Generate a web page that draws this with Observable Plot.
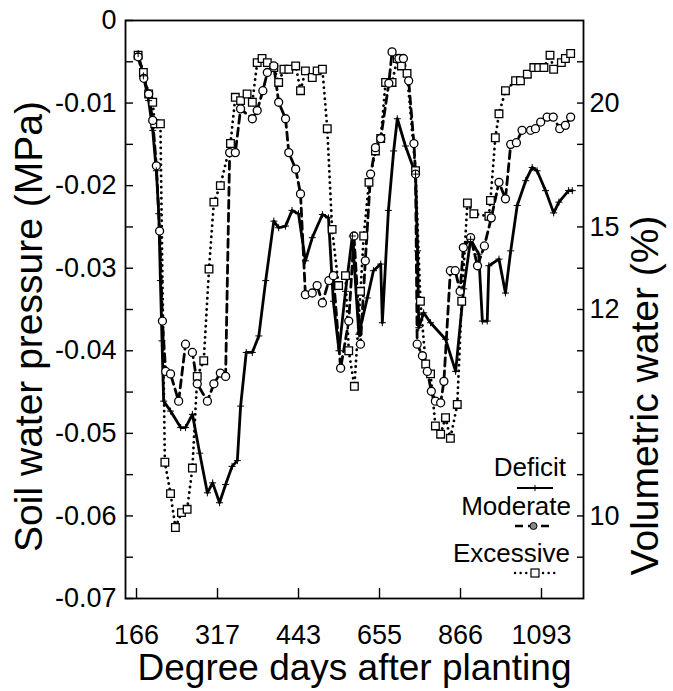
<!DOCTYPE html>
<html><head><meta charset="utf-8">
<script src="https://cdn.jsdelivr.net/npm/d3@7"></script>
<script src="https://cdn.jsdelivr.net/npm/@observablehq/plot@0.6"></script>
<style>
body{margin:0;background:#fff;}
#chart{position:relative;width:673px;height:691px;}
#legend{position:absolute;left:0;top:0;pointer-events:none;}
</style></head><body><div id="chart"></div>
<script>
// x: position along the time axis (tick units: 0,20,...,100), p: soil water pressure (MPa)
const deficitX = [0.4,1.7,3.0,4.0,4.9,5.5,5.9,6.3,6.7,8.4,10.9,12.1,13.8,15.6,17.5,18.8,20.5,22.0,23.6,24.9,25.7,27.1,28.6,30.2,31.9,33.9,35.1,36.8,38.4,40.0,41.7,43.4,45.9,47.4,48.6,50.0,51.6,53.3,54.9,57.0,58.5,60.3,60.7,62.2,63.5,64.4,66.4,68.9,69.4,69.7,70.9,72.6,76.3,78.8,80.8,82.5,84.5,85.4,86.6,87.0,89.5,91.1,92.4,94.0,96.1,97.7,98.9,101.0,103.0,104.3,106.7,107.6];
const deficitP = [-0.0040,-0.0067,-0.0097,-0.0133,-0.0182,-0.0234,-0.0315,-0.0388,-0.0461,-0.0473,-0.0493,-0.0493,-0.0477,-0.0524,-0.0572,-0.0560,-0.0584,-0.0562,-0.0540,-0.0533,-0.0467,-0.0402,-0.0402,-0.0382,-0.0315,-0.0243,-0.0251,-0.0249,-0.0230,-0.0234,-0.0291,-0.0263,-0.0235,-0.0239,-0.0340,-0.0400,-0.0328,-0.0261,-0.0380,-0.0336,-0.0303,-0.0295,-0.0366,-0.0230,-0.0158,-0.0119,-0.0152,-0.0186,-0.0279,-0.0372,-0.0354,-0.0366,-0.0386,-0.0425,-0.0325,-0.0265,-0.0283,-0.0364,-0.0364,-0.0297,-0.0289,-0.0330,-0.0279,-0.0224,-0.0194,-0.0178,-0.0182,-0.0206,-0.0233,-0.0220,-0.0206,-0.0206];

const moderateX = [0.4,1.8,3.0,4.0,4.9,5.7,6.4,7.2,8.4,10.4,12.1,13.8,15.0,17.5,19.1,20.7,22.0,23.0,24.4,25.7,28.6,29.8,31.2,32.3,33.9,35.1,36.8,37.6,39.3,40.5,41.7,43.4,44.6,45.9,47.5,48.6,50.4,52.4,53.7,55.3,56.5,57.8,59.0,60.3,62.3,63.1,64.8,65.9,67.2,68.5,68.9,69.3,70.6,71.8,72.8,73.8,75.1,75.9,77.5,78.7,79.9,80.7,82.5,84.2,85.9,87.6,89.5,91.1,92.4,93.8,95.2,97.3,98.5,99.8,101.4,102.9,104.5,105.9,107.2];
const moderateP = [-0.0044,-0.0070,-0.0089,-0.0121,-0.0176,-0.0255,-0.0364,-0.0425,-0.0428,-0.0461,-0.0392,-0.0402,-0.0440,-0.0461,-0.0440,-0.0427,-0.0431,-0.0160,-0.0160,-0.0107,-0.0119,-0.0109,-0.0085,-0.0063,-0.0055,-0.0099,-0.0119,-0.0160,-0.0180,-0.0210,-0.0332,-0.0330,-0.0321,-0.0342,-0.0315,-0.0309,-0.0421,-0.0364,-0.0261,-0.0392,-0.0291,-0.0186,-0.0154,-0.0143,-0.0076,-0.0038,-0.0046,-0.0046,-0.0073,-0.0149,-0.0186,-0.0392,-0.0406,-0.0425,-0.0449,-0.0461,-0.0463,-0.0437,-0.0303,-0.0303,-0.0328,-0.0275,-0.0263,-0.0297,-0.0273,-0.0239,-0.0196,-0.0216,-0.0150,-0.0148,-0.0133,-0.0133,-0.0131,-0.0123,-0.0117,-0.0117,-0.0131,-0.0127,-0.0117];

const excessiveX = [0.4,1.7,3.0,4.0,4.5,5.9,7.0,8.4,9.6,11.1,12.5,13.8,15.0,16.6,17.9,19.1,20.7,23.2,24.4,25.7,27.3,28.6,29.8,31.0,32.3,33.9,35.1,36.4,37.6,39.3,40.5,41.7,43.4,44.6,45.9,47.1,48.3,49.9,51.6,52.4,53.8,55.3,56.1,57.4,59.0,60.3,61.5,63.1,64.4,65.4,66.8,68.9,70.1,71.4,72.6,73.8,75.1,76.3,77.5,79.2,80.3,81.7,83.3,87.0,87.4,88.6,89.5,91.1,93.6,94.8,96.5,98.1,99.3,100.6,102.1,103.0,104.9,105.9,107.2];
const excessiveP = [-0.0042,-0.0063,-0.0089,-0.0099,-0.0125,-0.0125,-0.0535,-0.0573,-0.0614,-0.0596,-0.0592,-0.0542,-0.0431,-0.0412,-0.0301,-0.0220,-0.0200,-0.0149,-0.0093,-0.0097,-0.0089,-0.0099,-0.0051,-0.0046,-0.0051,-0.0057,-0.0075,-0.0059,-0.0059,-0.0055,-0.0085,-0.0061,-0.0069,-0.0061,-0.0059,-0.0131,-0.0253,-0.0321,-0.0309,-0.0400,-0.0443,-0.0328,-0.0261,-0.0196,-0.0158,-0.0143,-0.0075,-0.0075,-0.0046,-0.0055,-0.0064,-0.0182,-0.0340,-0.0416,-0.0428,-0.0491,-0.0501,-0.0481,-0.0506,-0.0465,-0.0340,-0.0221,-0.0234,-0.0237,-0.0218,-0.0142,-0.0113,-0.0085,-0.0073,-0.0073,-0.0065,-0.0057,-0.0057,-0.0057,-0.0042,-0.0059,-0.0051,-0.0046,-0.0040];

const xTickPos = [0,20,40,60,80,100];
const xTickLabels = ["166","317","443","655","866","1093"];
const leftTicks = [0,-0.01,-0.02,-0.03,-0.04,-0.05,-0.06,-0.07];
const leftTickLabels = ["0","-0.01","-0.02","-0.03","-0.04","-0.05","-0.06","-0.07"];
const leftMinorTicks = [-0.005,-0.015,-0.025,-0.035,-0.045,-0.055,-0.065];
const rightTickP = [-0.005,-0.01,-0.015,-0.02,-0.025,-0.03,-0.035,-0.04,-0.045,-0.05,-0.055,-0.06,-0.065];
const rightTickLabels = ["","20","","","15","","12","","","","","10",""];
const seriesNames = ["Deficit","Moderate","Excessive"];

const rows = (X, P) => X.map((x, i) => ({x, p: P[i]}));
const deficit = rows(deficitX, deficitP);
const moderate = rows(moderateX, moderateP);
const excessive = rows(excessiveX, excessiveP);

const font = "'Liberation Sans', Arial, Helvetica, sans-serif";
const W = 673, H = 691, ML = 125, MR = 90, MT = 20, MB = 93;

const chart = Plot.plot({
  width: W, height: H,
  marginLeft: ML, marginRight: MR, marginTop: MT, marginBottom: MB,
  style: {fontFamily: font, background: "white", color: "black", overflow: "visible"},
  x: {domain: [-2.72, 110.37]},
  y: {domain: [-0.07, 0]},
  marks: [
    Plot.frame({stroke: "black", strokeWidth: 1.8}),
    // inward tick marks
    Plot.axisY({ticks: leftTicks.concat(leftMinorTicks), tickSize: -8, tickFormat: () => "", label: null, strokeWidth: 1.4}),
    Plot.axisY({ticks: rightTickP, anchor: "right", tickSize: -7, tickFormat: () => "", label: null, strokeWidth: 1.4}),
    Plot.axisX({ticks: xTickPos, tickSize: -10, tickFormat: () => "", label: null, strokeWidth: 1.4}),
    // tick labels
    Plot.axisY({ticks: leftTicks, tickSize: 0, tickPadding: 9, fontSize: 27, label: null,
      tickFormat: d => leftTickLabels[leftTicks.indexOf(d)]}),
    Plot.axisY({ticks: rightTickP, anchor: "right", tickSize: 0, tickPadding: 6, fontSize: 27, label: null,
      tickFormat: d => rightTickLabels[rightTickP.indexOf(d)]}),
    Plot.axisX({ticks: xTickPos, tickSize: 0, tickPadding: 26, fontSize: 27, label: null,
      tickFormat: d => xTickLabels[xTickPos.indexOf(d)]}),
    // axis titles
    Plot.text(["Soil water pressure (MPa)"], {frameAnchor: "left", rotate: -90, dx: -96, dy: 17, fontSize: 39, lineAnchor: "middle", textAnchor: "middle"}),
    Plot.text(["Volumetric water (%)"], {frameAnchor: "right", rotate: -90, dx: 62, dy: 86, fontSize: 39, lineAnchor: "middle", textAnchor: "middle"}),
    Plot.text(["Degree days after planting"], {frameAnchor: "bottom", dy: 70, fontSize: 37, lineAnchor: "middle"}),
    // series lines
    Plot.line(excessive, {x: "x", y: "p", stroke: "black", strokeWidth: 2.8, strokeDasharray: "0.1,5.5", strokeLinecap: "round"}),
    Plot.line(moderate, {x: "x", y: "p", stroke: "black", strokeWidth: 2.8, strokeDasharray: "8,5"}),
    Plot.line(deficit, {x: "x", y: "p", stroke: "black", strokeWidth: 2.8}),
    // markers
    Plot.dot(excessive, {x: "x", y: "p", symbol: "square", r: 4.3, stroke: "black", fill: "white", strokeWidth: 1.3}),
    Plot.dot(moderate, {x: "x", y: "p", symbol: "circle", r: 4, stroke: "black", fill: "white", strokeWidth: 1.3}),
    Plot.dot(deficit, {x: "x", y: "p", symbol: "plus", r: 2.4, stroke: "black", strokeWidth: 1})
  ]
});
const root = document.getElementById("chart");
root.appendChild(chart);

// legend (inside the plot, lower right)
const lg = d3.select(root).append("svg").attr("id", "legend").attr("width", W).attr("height", H)
  .style("font-family", font);
const entries = [
  {name: seriesNames[0], tx: 566, ty: 476, ly: 488, x1: 517, x2: 553, dash: null, sym: "plus"},
  {name: seriesNames[1], tx: 571, ty: 515, ly: 526, x1: 515, x2: 552, dash: "8,5", sym: "circle"},
  {name: seriesNames[2], tx: 570, ty: 562, ly: 573, x1: 515, x2: 555, dash: "0.1,5.5", sym: "square"}
];
entries.forEach(e => {
  lg.append("text").attr("x", e.tx).attr("y", e.ty).attr("text-anchor", "end").attr("font-size", 26).attr("fill", "black").text(e.name);
  const l = lg.append("line").attr("x1", e.x1).attr("x2", e.x2).attr("y1", e.ly).attr("y2", e.ly)
    .attr("stroke", "black").attr("stroke-width", e.sym === "plus" ? 2 : 2.4);
  if (e.dash) l.attr("stroke-dasharray", e.dash).attr("stroke-linecap", e.sym === "square" ? "round" : "butt");
  const cx = (e.x1 + e.x2) / 2;
  if (e.sym === "circle") lg.append("circle").attr("cx", cx).attr("cy", e.ly).attr("r", 3.5).attr("fill", "#888").attr("stroke", "black");
  if (e.sym === "square") lg.append("rect").attr("x", cx - 4).attr("y", e.ly - 4).attr("width", 8).attr("height", 8).attr("fill", "white").attr("stroke", "black").attr("stroke-width", 1.2);
  if (e.sym === "plus") lg.append("line").attr("x1", cx).attr("x2", cx).attr("y1", e.ly - 3).attr("y2", e.ly + 3).attr("stroke", "black");
});
</script>
</body></html>
